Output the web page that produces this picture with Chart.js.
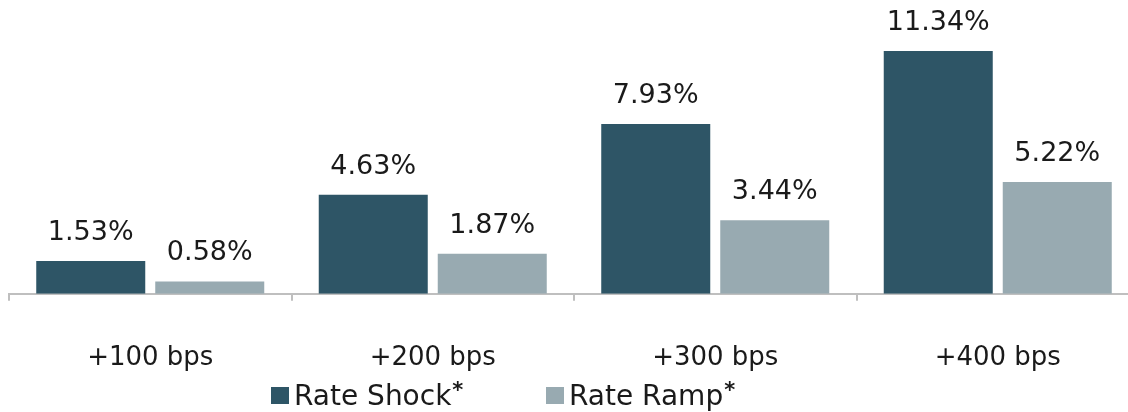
<!DOCTYPE html>
<html>
<head>
<meta charset="utf-8">
<script src="https://cdn.jsdelivr.net/npm/chart.js@4"></script>
<style>
    html, body { margin: 0; padding: 0; background: #fff; overflow: hidden; }
    #wrap { width: 1141px; height: 412px; }
</style>
</head>
<body>
<div id="wrap"><canvas id="rateChart"></canvas></div>
<script>
const categories = ['+100 bps', '+200 bps', '+300 bps', '+400 bps'];
const seriesNames = ['Rate Shock', 'Rate Ramp'];
const rateShock = [1.53, 4.63, 7.93, 11.34];
const rateRamp = [0.58, 1.87, 3.44, 5.22];
const seriesColors = ['#2e5566', '#98aab1'];

const FONT = '"DejaVu Sans", sans-serif';

// value labels above each bar
const barLabels = {
    id: 'barLabels',
    afterDatasetsDraw(chart) {
        const ctx = chart.ctx;
        ctx.save();
        ctx.font = '27px ' + FONT;
        ctx.fillStyle = '#1a1a1a';
        ctx.textAlign = 'center';
        ctx.textBaseline = 'alphabetic';
        chart.data.datasets.forEach((ds, i) => {
            chart.getDatasetMeta(i).data.forEach((bar, j) => {
                ctx.fillText(ds.data[j].toFixed(2) + '%', bar.x, bar.y - 21);
            });
        });
        ctx.restore();
    },
};

// legend drawn by hand so the asterisk can be raised
const legendPlugin = {
    id: 'customLegend',
    afterDraw(chart) {
        const ctx = chart.ctx;
        ctx.save();
        const starts = [271, 546];
        const y = 395;
        chart.data.datasets.forEach((ds, i) => {
            const x = starts[i];
            ctx.fillStyle = ds.backgroundColor;
            ctx.fillRect(x, y - 8, 18, 17);
            ctx.fillStyle = '#1a1a1a';
            ctx.font = '28px ' + FONT;
            ctx.textBaseline = 'alphabetic';
            ctx.textAlign = 'left';
            ctx.fillText(ds.label, x + 23, y + 10);
            const w = ctx.measureText(ds.label).width;
            ctx.font = 'bold 21px ' + FONT;
            ctx.fillText('*', x + 24 + w, y + 2);
        });
        ctx.restore();
    },
};

new Chart(document.getElementById('rateChart'), {
    type: 'bar',
    data: {
        labels: categories,
        datasets: [
            { label: seriesNames[0], data: rateShock, backgroundColor: seriesColors[0] },
            { label: seriesNames[1], data: rateRamp, backgroundColor: seriesColors[1] },
        ],
    },
    options: {
        responsive: true,
        maintainAspectRatio: false,
        animation: false,
        categoryPercentage: 0.8425,
        barPercentage: 0.916,
        layout: { padding: { left: 9, right: 2, top: 0, bottom: -4 } },
        plugins: {
            legend: { display: false },
            tooltip: { enabled: false },
        },
        scales: {
            y: { display: false, min: 0, max: 13.72 },
            x: {
                grid: {
                    offset: true,
                    drawOnChartArea: false,
                    tickLength: 7,
                    color: '#bfbfbf',
                    lineWidth: 2,
                },
                border: { color: '#bfbfbf', width: 2 },
                ticks: {
                    color: '#1a1a1a',
                    font: { family: FONT, size: 26, lineHeight: 1.2 },
                    padding: 42,
                },
            },
        },
    },
    plugins: [barLabels, legendPlugin],
});
</script>
</body>
</html>
